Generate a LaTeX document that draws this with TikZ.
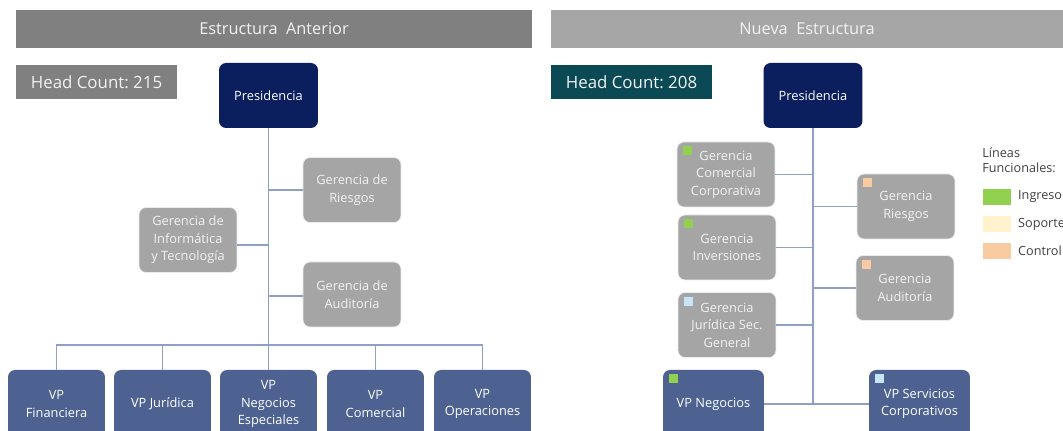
\documentclass[tikz,border=0pt]{standalone}
\usepackage{fontspec}
\setmainfont{Open Sans}
\usepackage{tikz}
\definecolor{navy}{HTML}{0B1F5E}
\definecolor{vpblue}{HTML}{4D6291}
\definecolor{boxgray}{HTML}{A5A5A5}
\definecolor{bargray}{HTML}{808080}
\definecolor{barlight}{HTML}{A6A6A6}
\definecolor{teal}{HTML}{0B4A55}
\definecolor{linecol}{HTML}{8FA0C6}
\definecolor{ingreso}{HTML}{92D050}
\definecolor{soporte}{HTML}{FFF2CC}
\definecolor{control}{HTML}{F8CBA0}
\definecolor{juridica}{HTML}{C6E6F7}
\definecolor{legtext}{HTML}{404040}
\newcommand{\boxfont}{\fontsize{7.3}{10}\selectfont}
\tikzset{
  titlebar/.style={fill=#1,text=white!95!black,minimum width=10.32cm,minimum height=0.76cm,font=\fontsize{9.3}{10}\selectfont},
  hcbox/.style={fill=#1,text=white!95!black,minimum width=3.22cm,minimum height=0.68cm,font=\fontsize{9.6}{10}\selectfont},
  presbox/.style={fill=navy,text=white,rounded corners=4pt,minimum width=1.98cm,minimum height=1.3cm,font=\fontsize{7.3}{9}\selectfont},
  gerbox/.style={fill=boxgray,draw=white!85!gray,text=white!95!black,rounded corners=4pt,minimum width=1.96cm,minimum height=1.3cm,align=center,font=\boxfont},
  vpbox/.style={fill=vpblue,text=white,rounded corners=4pt,minimum width=1.94cm,minimum height=1.36cm,align=center,font=\boxfont},
  conn/.style={draw=linecol,line width=0.6pt},
  tagbox/.style={fill=#1,minimum size=0.18cm,inner sep=0pt},
  legbox/.style={fill=#1,minimum width=0.56cm,minimum height=0.32cm,inner sep=0pt},
}
\begin{document}
\begin{tikzpicture}[x=0.02cm,y=-0.02cm]
\useasboundingbox (0,0) rectangle (1063,431);
\clip (0,0) rectangle (1063,431);
% estructura anterior
\node[titlebar=bargray] (tit1) at (274,29) {Estructura\ \ Anterior};
\node[hcbox=bargray] (hc1) at (96.5,82) {Head Count:\ 215};
\node[presbox] (pres1) at (268.5,95.5) {Presidencia};
\node[gerbox] (riesg1) at (352,190) {Gerencia de\\Riesgos};
\node[gerbox] (info1) at (188,240) {Gerencia de\\Informática\\y Tecnología};
\node[gerbox] (audit1) at (352,294.5) {Gerencia de\\Auditoría};
\node[vpbox] (vpfin) at (56.5,404) {VP\\Financiera};
\node[vpbox] (vpjur) at (162.5,404) {VP Jurídica};
\node[vpbox] (vpnes) at (268.5,404) {VP\\Negocios\\Especiales};
\node[vpbox] (vpcom) at (375.5,404) {VP\\Comercial};
\node[vpbox] (vpope) at (482.5,404) {VP\\Operaciones};
\coordinate (bus1) at (268.5,345);
\draw[conn] (pres1) -- (bus1);
\draw[conn] (riesg1.west) -- (riesg1.west -| pres1);
\draw[conn] ([yshift=-0.1cm]info1.east) -- ([yshift=-0.1cm]info1.east -| pres1);
\draw[conn] ([yshift=-0.03cm]audit1.west) -- ([yshift=-0.03cm]audit1.west -| pres1);
\draw[conn] (vpfin.north) |- (bus1) -| (vpope.north);
\draw[conn] (vpjur.north) -- (vpjur.north |- bus1);
\draw[conn] (vpcom.north) -- (vpcom.north |- bus1);
\draw[conn] (bus1) -- (vpnes.north);
% nueva estructura
\node[titlebar=barlight,minimum width=10.24cm] (tit2) at (807,29) {Nueva\ \ Estructura};
\node[hcbox=teal] (hc2) at (631.5,82) {Head Count:\ 208};
\node[presbox] (pres2) at (813,95.5) {Presidencia};
\node[gerbox] (gcc) at (726,174.5) {Gerencia\\Comercial\\Corporativa};
\node[gerbox] (ginv) at (727,247.5) {Gerencia\\Inversiones};
\node[gerbox] (gjur) at (727,325) {Gerencia\\Jurídica Sec.\\General};
\node[gerbox] (griesg) at (906,206.5) {Gerencia\\Riesgos};
\node[gerbox] (gaud) at (905,288) {Gerencia\\Auditoría};
\node[vpbox,minimum width=2.02cm] (vpneg) at (713.5,404) {VP Negocios};
\node[vpbox,minimum width=2.02cm] (vpserv) at (919.5,404) {VP Servicios\\Corporativos};
\coordinate (bus2) at (813,403);
\draw[conn] (pres2) -- (bus2);
\draw[conn] (gcc.east) -- (gcc.east -| pres2);
\draw[conn] (ginv.east) -- (ginv.east -| pres2);
\draw[conn] (gjur.east) -- (gjur.east -| pres2);
\draw[conn] (griesg.west) -- (griesg.west -| pres2);
\draw[conn] (gaud.west) -- (gaud.west -| pres2);
\draw[conn] (vpneg.east) -- (vpserv.west);
% marcas de linea funcional
\node[tagbox=ingreso] (t1) at ([xshift=0.22cm,yshift=-0.18cm]gcc.north west) {};
\node[tagbox=ingreso] (t2) at ([xshift=0.22cm,yshift=-0.18cm]ginv.north west) {};
\node[tagbox=juridica] (t3) at ([xshift=0.22cm,yshift=-0.18cm]gjur.north west) {};
\node[tagbox=control] (t4) at ([xshift=0.22cm,yshift=-0.18cm]griesg.north west) {};
\node[tagbox=control] (t5) at ([xshift=0.22cm,yshift=-0.18cm]gaud.north west) {};
\node[tagbox=ingreso] (t6) at ([xshift=0.22cm,yshift=-0.18cm]vpneg.north west) {};
\node[tagbox=juridica] (t7) at ([xshift=0.22cm,yshift=-0.18cm]vpserv.north west) {};
% leyenda
\node[anchor=north west,align=left,text=legtext,inner sep=0pt,font=\fontsize{7.2}{8.6}\selectfont] (legtit) at (982,147) {Líneas\\Funcionales:};
\node[legbox=ingreso] (lg1) at (997,197) {};
\node[legbox=soporte] (lg2) at (997,224.5) {};
\node[legbox=control] (lg3) at (997,251) {};
\node[anchor=west,text=legtext,font=\fontsize{7.2}{8.6}\selectfont] (lt1) at (1012,197) {Ingreso};
\node[anchor=west,text=legtext,font=\fontsize{7.2}{8.6}\selectfont] (lt2) at (1012,224.5) {Soporte};
\node[anchor=west,text=legtext,font=\fontsize{7.2}{8.6}\selectfont] (lt3) at (1012,251) {Control};
\end{tikzpicture}
\end{document}
